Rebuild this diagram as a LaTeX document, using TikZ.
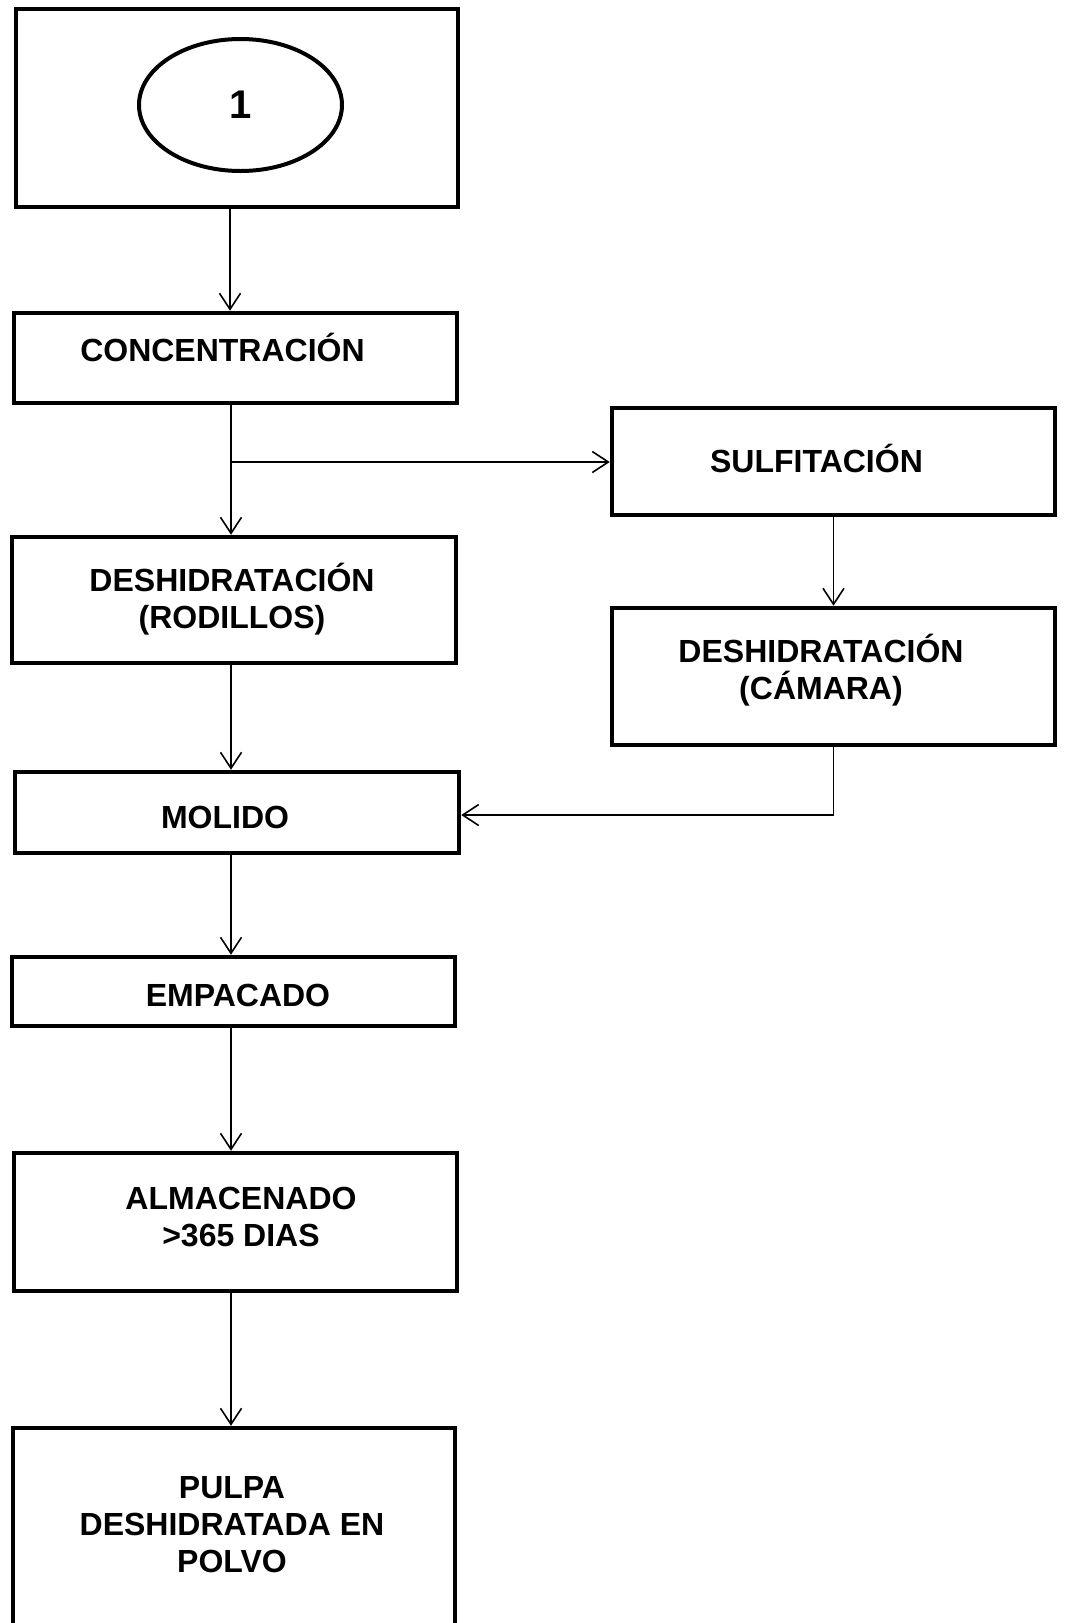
\documentclass[tikz,border=0pt]{standalone}
\usepackage{fontspec}
\setmainfont{Liberation Sans}
\usetikzlibrary{arrows.meta,shapes.geometric}

\tikzset{
  stepbox/.style={draw=black, line width=4.5pt, rectangle, inner sep=0pt, fill=white},
  boxtext/.style={font=\fontsize{32}{37}\selectfont\bfseries, align=center, inner sep=0pt},
  flow/.style={line width=1.6pt, -{Straight Barb[length=16pt,width=21pt,line width=1.6pt]}},
  plain/.style={line width=1.6pt}
}

\begin{document}
\begin{tikzpicture}[x=1pt,y=-1pt]
  \useasboundingbox (0,0) rectangle (1065,1623);
  \clip (0,0) rectangle (1065,1623);
  \fill[white] (0,0) rectangle (1065,1623);

  % start connector: box with an ellipse
  \node[stepbox, minimum width=442pt, minimum height=198pt] (start) at (237,108) {};
  \node[draw, line width=4pt, ellipse, minimum width=203pt, minimum height=132pt, inner sep=0pt]
       (startnum) at (240.5,105) {\fontsize{40}{46}\selectfont\bfseries 1};

  % left column
  \node[stepbox, minimum width=443pt, minimum height=90pt]  (conc) at (235.5,358) {};
  \node[boxtext] (conct) at (222.5,347) {CONCENTRACIÓN};

  \node[stepbox, minimum width=444pt, minimum height=126pt] (rod) at (234,600) {};
  \node[boxtext] (rodt) at (232,599.5) {DESHIDRATACIÓN\\(RODILLOS)};

  \node[stepbox, minimum width=444pt, minimum height=81pt]  (mol) at (237,812.5) {};
  \node[boxtext] (molt) at (225,817) {MOLIDO};

  \node[stepbox, minimum width=443pt, minimum height=69pt]  (emp) at (233.5,991.5) {};
  \node[boxtext] (empt) at (238,995) {EMPACADO};

  \node[stepbox, minimum width=443pt, minimum height=138pt] (alm) at (235.5,1222) {};
  \node[boxtext] (almt) at (241,1217) {ALMACENADO\\>365 DIAS};

  \node[stepbox, minimum width=442pt, minimum height=240pt] (pulpa) at (234,1548) {};
  \node[boxtext] (pulpat) at (232,1525) {PULPA\\DESHIDRATADA EN\\POLVO};

  % right column
  \node[stepbox, minimum width=443pt, minimum height=107pt] (sulf) at (833.5,461.5) {};
  \node[boxtext] (sulft) at (816.5,458) {SULFITACIÓN};

  \node[stepbox, minimum width=443pt, minimum height=137pt] (cam) at (833.5,676.5) {};
  \node[boxtext] (camt) at (821,670.5) {DESHIDRATACIÓN\\(CÁMARA)};

  % connectors
  \coordinate (split) at (231,462);
  \draw[flow] (start.south -| 230,0) -- (conc.north -| 230,0);
  \draw[flow] (conc.south -| split) -- (rod.north -| split);
  \draw[flow] (split) -- (sulf.west |- split);
  \draw[flow] (rod.south -| split) -- (mol.north -| split);
  \draw[flow] (mol.south -| split) -- (emp.north -| split);
  \draw[flow] (emp.south -| split) -- (alm.north -| split);
  \draw[flow] (alm.south -| split) -- (pulpa.north -| split);
  \draw[flow] (sulf.south) -- (cam.north);
  \coordinate (bend) at (833.5,815);
  \draw[plain] (cam.south) -- (bend);
  \draw[flow] (bend) -- (mol.east |- bend);
\end{tikzpicture}
\end{document}
